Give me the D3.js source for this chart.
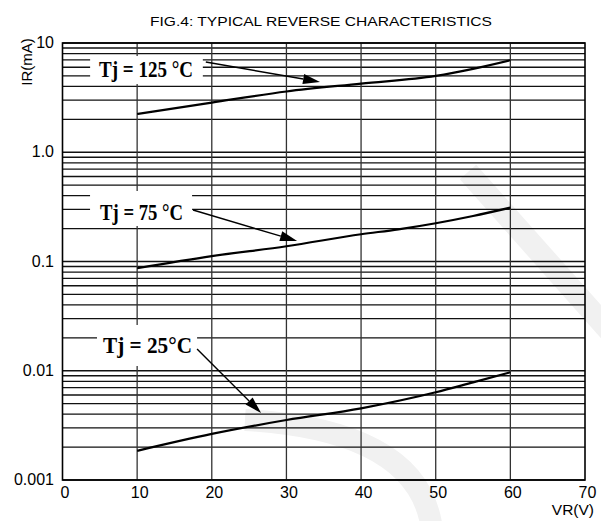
<!DOCTYPE html>
<html>
<head>
<meta charset="utf-8">
<title>FIG.4 Typical Reverse Characteristics</title>
<script src="https://d3js.org/d3.v7.min.js"></script>
<style>
  body { margin: 0; background: #fff; }
  svg { display: block; }
</style>
</head>
<body>
<svg id="chart" width="601" height="521"></svg>
<script>
// reverse voltage (V) and reverse current (mA)
var vr125 = [10, 20, 30, 40, 50, 55, 60];
var ir125 = [2.24, 2.85, 3.6, 4.25, 5.0, 5.8, 6.95];

var vr75 = [10, 20, 30, 40, 45, 50, 55, 60];
var ir75 = [0.0867, 0.112, 0.138, 0.1775, 0.197, 0.224, 0.261, 0.311];

var vr25 = [10, 20, 30, 40, 50, 55, 60];
var ir25 = [0.00185, 0.00264, 0.00354, 0.00453, 0.00635, 0.00783, 0.00968];

var xTicks = [0, 10, 20, 30, 40, 50, 60, 70];
var yTicks = [10, 1, 0.1, 0.01, 0.001];
var yTickText = ["10", "1.0", "0.1", "0.01", "0.001"];

// curve labels, in data units (V, mA)
var labelText = ["Tj = 125 °C", "Tj = 75 °C", "Tj = 25°C"];
var labelAt = [[11.19, 4.85], [10.59, 0.24], [11.39, 0.01445]];
var labelBoxV = [[3.7, 18.8], [3.69, 17.36], [4.62, 18.03]];
var labelBoxI = [[7.6, 4.21], [0.442, 0.2113], [0.02624, 0.01105]];
var arrowFrom = [[19.2, 6.7], [17.49, 0.296], [18.03, 0.0158]];
var arrowTo = [[34.5, 4.4], [31.43, 0.154], [26.61, 0.0041]];
var labelWidth = [94, 83, 89];

var svg = d3.select("#chart");

var x = d3.scaleLinear().domain([0, 70]).range([62.5, 585]);
var y = d3.scaleLog().domain([0.001, 10]).range([480, 43]);

// faint watermark behind the plot
var wm = svg.append("g")
  .attr("fill", "none")
  .attr("stroke", "#f1f1f1")
  .attr("stroke-width", 22);
wm.append("path").attr("d", "M468,172 L612,334");
wm.append("path").attr("d", "M245,420 Q420,430 432,530");

// minor grid values 1..9 x each decade
var gridVals = [];
for (var e = -3; e < 1; e++) {
  for (var k = 2; k <= 9; k++) gridVals.push(k * Math.pow(10, e));
}
gridVals = gridVals.concat(yTicks);

var grid = svg.append("g");
grid.selectAll("line.h")
  .data(gridVals)
  .enter().append("line")
  .attr("x1", x(0)).attr("x2", x(70))
  .attr("y1", function(d) { return y(d); })
  .attr("y2", function(d) { return y(d); })
  .attr("stroke", "#111")
  .attr("stroke-width", 1.3);

grid.selectAll("line.v")
  .data([10, 20, 30, 40, 50, 60])
  .enter().append("line")
  .attr("y1", y(10)).attr("y2", y(0.001))
  .attr("x1", function(d) { return x(d); })
  .attr("x2", function(d) { return x(d); })
  .attr("stroke", "#333")
  .attr("stroke-width", 1.3);

// frame
svg.append("rect")
  .attr("x", x(0)).attr("y", y(10))
  .attr("width", x(70) - x(0)).attr("height", y(0.001) - y(10))
  .attr("fill", "none")
  .attr("stroke", "#000")
  .attr("stroke-width", 1.6);

// curves
var line = d3.line()
  .x(function(d) { return x(d[0]); })
  .y(function(d) { return y(d[1]); })
  .curve(d3.curveMonotoneX);

[[vr125, ir125], [vr75, ir75], [vr25, ir25]].forEach(function(s) {
  var pts = s[0].map(function(v, i) { return [v, s[1][i]]; });
  svg.append("path")
    .attr("d", line(pts))
    .attr("fill", "none")
    .attr("stroke", "#000")
    .attr("stroke-width", 2.2);
});

// labels with white boxes and arrows
labelText.forEach(function(t, i) {
  var bx = x(labelBoxV[i][0]), bx2 = x(labelBoxV[i][1]);
  var by = y(labelBoxI[i][0]), by2 = y(labelBoxI[i][1]);
  svg.append("rect")
    .attr("x", bx).attr("y", by)
    .attr("width", bx2 - bx).attr("height", by2 - by)
    .attr("fill", "#fff");

  svg.append("text")
    .attr("x", x(labelAt[i][0]))
    .attr("y", y(labelAt[i][1]))
    .attr("text-anchor", "middle")
    .attr("font-family", "'Liberation Serif', 'DejaVu Serif', serif")
    .attr("font-weight", "bold")
    .attr("font-size", 24)
    .attr("textLength", labelWidth[i])
    .attr("lengthAdjust", "spacingAndGlyphs")
    .text(t);

  var x1 = x(arrowFrom[i][0]), y1 = y(arrowFrom[i][1]);
  var x2 = x(arrowTo[i][0]), y2 = y(arrowTo[i][1]);
  var ang = Math.atan2(y2 - y1, x2 - x1);
  var hl = 17, hw = 5;
  var bxh = x2 - hl * Math.cos(ang), byh = y2 - hl * Math.sin(ang);
  svg.append("line")
    .attr("x1", x1).attr("y1", y1)
    .attr("x2", bxh).attr("y2", byh)
    .attr("stroke", "#000")
    .attr("stroke-width", 1.4);
  svg.append("polygon")
    .attr("points", [
      [x2, y2],
      [bxh + hw * Math.sin(ang), byh - hw * Math.cos(ang)],
      [bxh - hw * Math.sin(ang), byh + hw * Math.cos(ang)]
    ].map(function(p) { return p.join(","); }).join(" "))
    .attr("fill", "#000");
});

// tick labels
svg.append("g").selectAll("text")
  .data(yTicks)
  .enter().append("text")
  .attr("x", 54)
  .attr("y", function(d) { return y(d) + 5; })
  .attr("text-anchor", "end")
  .attr("font-family", "'Liberation Sans', Arial, sans-serif")
  .attr("font-size", 16)
  .text(function(d, i) { return yTickText[i]; });

svg.append("g").selectAll("text")
  .data(xTicks)
  .enter().append("text")
  .attr("x", function(d) { return x(d) + 2.5; })
  .attr("y", 498)
  .attr("text-anchor", "middle")
  .attr("font-family", "'Liberation Sans', Arial, sans-serif")
  .attr("font-size", 16)
  .text(function(d) { return d; });

// axis titles
svg.append("text")
  .attr("x", 594).attr("y", 515)
  .attr("text-anchor", "end")
  .attr("font-family", "'Liberation Sans', Arial, sans-serif")
  .attr("font-size", 15.5)
  .text("VR(V)");

svg.append("text")
  .attr("transform", "translate(32,62)rotate(-90)")
  .attr("text-anchor", "middle")
  .attr("font-family", "'Liberation Sans', Arial, sans-serif")
  .attr("font-size", 15)
  .text("IR(mA)");

// title
svg.append("text")
  .attr("x", 321).attr("y", 26)
  .attr("text-anchor", "middle")
  .attr("font-family", "'Liberation Sans', Arial, sans-serif")
  .attr("font-size", 13.5)
  .attr("textLength", 342)
  .attr("lengthAdjust", "spacingAndGlyphs")
  .text("FIG.4: TYPICAL REVERSE CHARACTERISTICS");
</script>
</body>
</html>
